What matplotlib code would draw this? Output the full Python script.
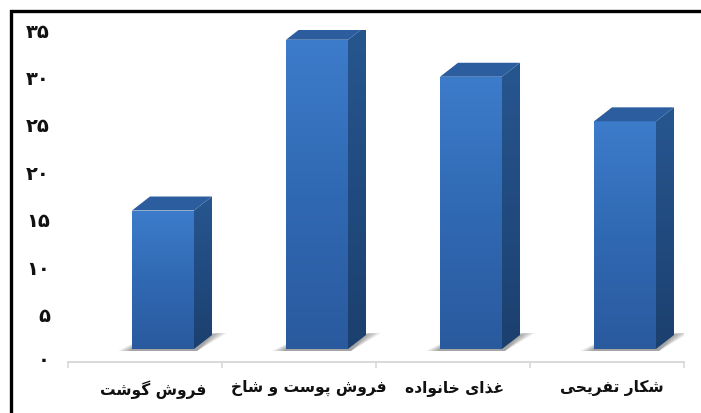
import numpy as np
import matplotlib
matplotlib.use("Agg")
import matplotlib.pyplot as plt
from matplotlib.patches import Polygon
from matplotlib.transforms import ScaledTranslation

categories = ["فروش گوشت", "فروش پوست و شاخ", "غذای خانواده", "شکار تفریحی"]
values = [14.6, 32.6, 28.7, 24.0]
tick_labels = ["۰", "۵", "۱۰", "۱۵", "۲۰", "۲۵", "۳۰", "۳۵"]
tick_values = [0, 5, 10, 15, 20, 25, 30, 35]

# presentation forms: isolated, final, initial, medial
FORMS = {
    "ا": "\uFE8D\uFE8E", "د": "\uFEA9\uFEAA", "ذ": "\uFEAB\uFEAC", "ر": "\uFEAD\uFEAE", "و": "\uFEED\uFEEE",
    "ف": "\uFED1\uFED2\uFED3\uFED4", "ش": "\uFEB5\uFEB6\uFEB7\uFEB8", "س": "\uFEB1\uFEB2\uFEB3\uFEB4",
    "ت": "\uFE95\uFE96\uFE97\uFE98", "پ": "\uFB56\uFB57\uFB58\uFB59", "خ": "\uFEA5\uFEA6\uFEA7\uFEA8",
    "ح": "\uFEA1\uFEA2\uFEA3\uFEA4", "غ": "\uFECD\uFECE\uFECF\uFED0", "ن": "\uFEE5\uFEE6\uFEE7\uFEE8",
    "ه": "\uFEE9\uFEEA\uFEEB\uFEEC", "ک": "\uFB8E\uFB8F\uFB90\uFB91", "گ": "\uFB92\uFB93\uFB94\uFB95",
    "ی": "\uFBFC\uFBFD\uFBFE\uFBFF",
}


def shape(s):
    out = []
    for i, c in enumerate(s):
        if c not in FORMS:
            out.append(c)
            continue
        f = FORMS[c]
        prev = s[i - 1] if i > 0 else " "
        nxt = s[i + 1] if i < len(s) - 1 else " "
        joined_prev = prev in FORMS and len(FORMS[prev]) == 4
        joined_next = nxt in FORMS and len(f) == 4
        if joined_prev and joined_next:
            out.append(f[3])
        elif joined_next:
            out.append(f[2])
        elif joined_prev:
            out.append(f[1])
        else:
            out.append(f[0])
    return "".join(out)[::-1]


W, H = 701, 413
fig = plt.figure(figsize=(W / 100, H / 100), dpi=100)

# whole-figure axes for the black frame (only top and left are in the crop)
bg = fig.add_axes([0, 0, 1, 1])
bg.set_xlim(0, W)
bg.set_ylim(H, 0)
bg.axis("off")
bg.plot([10.5, 10.5, W], [H, 10.5, 10.5], color="black", lw=2.4, solid_joinstyle="miter")

# plot axes: x runs over the 4 categories, y 0 to 35
x0, x1, y0, y35 = 68, 684, 362, 30
px_x = 4 / (x1 - x0)
px_y = 35 / (y0 - y35)
ax = fig.add_axes([x0 / W, 1 - y0 / H, (x1 - x0) / W, (y0 - y35) / H])
ax.patch.set_alpha(0)
for s in ["top", "right", "left"]:
    ax.spines[s].set_visible(False)
ax.spines["bottom"].set_color("#d9d9d9")
ax.spines["bottom"].set_linewidth(1.4)

label_nudge = [8, 10, 2, 5]
ax.set_xticks(np.arange(-0.5, 4, 1))
ax.set_xticklabels([])
ax.tick_params(axis="x", length=4, color="#d9d9d9", width=1.2)
ax.set_xticks([i + n * px_x for i, n in enumerate(label_nudge)], minor=True)
ax.set_xticklabels([shape(c) for c in categories], minor=True, fontsize=11.2,
                   fontweight="bold", color="#111111")
ax.tick_params(axis="x", which="minor", length=0, pad=13)
ax.set_yticks(tick_values)
ax.set_yticklabels(tick_labels, fontsize=14, fontweight="bold", color="#111111")
ax.tick_params(axis="y", length=0, pad=13)
# the zero dot sits a bit too low in this font
zero = ax.get_yticklabels()[0]
zero.set_transform(zero.get_transform() + ScaledTranslation(0, 3 / 100, fig.dpi_scale_trans))

width = 62 * px_x
shift = 18 * px_x
floor = 13 * px_y
dx = 18 * px_x
dy = 14 * px_y
grad = np.linspace(0, 1, 256).reshape(-1, 1)
blue = matplotlib.colors.LinearSegmentedColormap.from_list("b", ["#3d7ccb", "#3069b3", "#2a5a9e"])
side = matplotlib.colors.LinearSegmentedColormap.from_list("s", ["#27568f", "#214b80", "#1c406e"])

for i, v in enumerate(values):
    c = i + shift
    l, r = c - width / 2, c + width / 2
    top = floor + v
    # shadow on the floor, stacked so the outer edge fades out
    for k in range(8):
        e = 1 - k / 8
        ax.add_patch(Polygon([(l - 14 * px_x * e, floor - 2 * px_y), (r + 3 * px_x, floor - 2 * px_y),
                              (r + dx + 15 * px_x * e, floor + dy + 2 * px_y), (r + dx, floor + dy + 2 * px_y * e),
                              (r, floor + 4 * px_y), (l, floor + 5 * px_y * e)],
                             fc="#4a4a4a", ec="none", alpha=0.08, zorder=1))
    bar = ax.bar(c, v, width, bottom=floor, color="none", zorder=3)[0]
    im = ax.imshow(grad, extent=[l, r, floor, top], origin="upper", cmap=blue, aspect="auto",
                   interpolation="bilinear", zorder=3)
    im.set_clip_path(bar)
    s = Polygon([(r, floor), (r + dx, floor + dy), (r + dx, top + dy), (r, top)], fc="none", ec="none", zorder=3)
    ax.add_patch(s)
    im2 = ax.imshow(grad, extent=[r, r + dx, floor, top + dy], origin="upper", cmap=side, aspect="auto",
                    interpolation="bilinear", zorder=3)
    im2.set_clip_path(s)
    ax.add_patch(Polygon([(l, top), (l + dx, top + dy), (r + dx, top + dy), (r, top)], fc="#2c5e9f", ec="none", zorder=4))

ax.set_xlim(-0.5, 3.5)
ax.set_ylim(0, 35)
fig.savefig("out.png", dpi=100)
